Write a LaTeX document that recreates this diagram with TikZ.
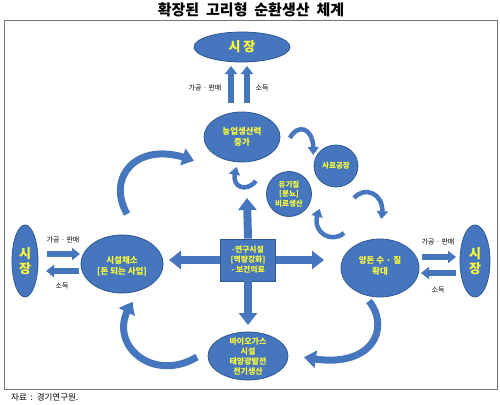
\documentclass[tikz,border=0pt]{standalone}
\usepackage{fontspec}
\setmainfont{Noto Sans CJK KR}
\usetikzlibrary{shapes.geometric,arrows.meta,bending}
\definecolor{pblue}{HTML}{4677BE}
\definecolor{pedge}{HTML}{2F5990}
\definecolor{ptext}{HTML}{FFFF33}
\definecolor{framegray}{HTML}{747474}
\begin{document}
\begin{tikzpicture}[x=1pt,y=-1pt,
  blob/.style={ellipse,fill=pblue,draw=pedge,line width=0.8pt,inner sep=0pt},
  txt/.style={text=ptext,font=\bfseries\fontsize{7.5}{9.5}\selectfont,align=center,inner sep=0pt},
  bigtxt/.style={text=ptext,font=\bfseries\fontsize{13}{15.5}\selectfont,align=center,inner sep=0pt},
  blk/.style={draw=pblue,line width=8pt,-{Triangle[length=12pt,width=18pt]}},
  blksm/.style={draw=pblue,line width=5.5pt,-{Triangle[length=8pt,width=12pt]}},
  curvbig/.style={draw=pblue,line width=7pt,-{Triangle[bend,length=12pt,width=17pt]}},
  curvsm/.style={draw=pblue,line width=4.5pt,-{Triangle[bend,length=8pt,width=11pt]}},
  lbl/.style={font=\fontsize{7}{8.5}\selectfont,text=black,inner sep=0pt}]
\useasboundingbox (0,0) rectangle (500,404);
% title and frame
\node (title) at (251,10) {\bfseries\fontsize{15}{17}\selectfont 확장된\ \ 고리형\ \ 순환생산\ \ 체계};
\draw[framegray,line width=1pt] (4.5,21) rectangle (497,389);
\node[anchor=west,font=\fontsize{8.5}{10}\selectfont,inner sep=0pt] (src) at (11,397) {자료\ \ :\ \ 경기연구원.};

% main shapes
\node[blob,minimum width=96pt,minimum height=30pt] (mt) at (242,47) {};
\node[bigtxt] at (mt.center) {시 장};
\node[blob,minimum width=76pt,minimum height=50pt] (agri) at (242,137) {};
\node[txt,font=\bfseries\fontsize{8.5}{11}\selectfont] at (agri.center) {농업생산력\\증가};
\node[blob,minimum width=44pt,minimum height=42pt] (feed) at (336,166) {};
\node[txt,font=\bfseries\fontsize{7.5}{9}\selectfont] at (feed.center) {사료공장};
\node[blob,minimum width=45pt,minimum height=45pt] (fert) at (289,194) {};
\node[txt,font=\bfseries\fontsize{7.5}{9.5}\selectfont] at (fert.center) {유기질\\{[분뇨]}\\비료생산};
\node[rectangle,fill=pblue,draw=pedge,line width=0.8pt,minimum width=55pt,minimum height=42pt,inner sep=0pt] (ctr) at (248,260) {};
\node[txt,font=\bfseries\fontsize{7.8}{10}\selectfont] at (ctr.center) {-연구시설\\{[역량강화]}\\- 보건의료};
\node[blob,minimum width=82pt,minimum height=58pt] (veg) at (122,264) {};
\node[txt,font=\bfseries\fontsize{8.5}{11.5}\selectfont] at ([yshift=-2pt]veg.center) {시설채소\\{[돈 되는 사업]}};
\node[blob,minimum width=78pt,minimum height=58pt] (pig) at (380,268) {};
\node[txt,font=\bfseries\fontsize{8.5}{11.5}\selectfont] at ([yshift=2pt]pig.center) {양돈 수 · 질\\확대};
\node[blob,minimum width=80pt,minimum height=48pt] (bio) at (248,356) {};
\node[txt,font=\bfseries\fontsize{8}{10}\selectfont] at (bio.center) {바이오가스\\시설\\태양광발전\\전기생산};
\node[blob,minimum width=26pt,minimum height=72pt] (lm) at (25,261) {};
\node[bigtxt] at (lm.center) {시\\장};
\node[blob,minimum width=30pt,minimum height=72pt] (rm) at (475,261) {};
\node[bigtxt] at (rm.center) {시\\장};

% labels
\node[lbl] (l1) at (205,88) {가공 · 판매};
\node[lbl] (l2) at (262,88) {소득};
\node[lbl] (l3) at (63,240) {가공 · 판매};
\node[lbl] (l4) at (62,286) {소득};
\node[lbl] (l5) at (438,242) {가공 · 판매};
\node[lbl] (l6) at (438,290) {소득};

% coordinates for free ends
\coordinate (u1s) at (231,103); \coordinate (u1e) at (231,66);
\coordinate (u2s) at (247,103); \coordinate (u2e) at (247,66);
\coordinate (a1s) at (47,254);  \coordinate (a1e) at (80,254);
\coordinate (a2s) at (79,271);  \coordinate (a2e) at (46,271);
\coordinate (a3s) at (422,257); \coordinate (a3e) at (456,257);
\coordinate (a4s) at (456,273); \coordinate (a4e) at (421,273);
\coordinate (cup) at (247,198);
\coordinate (cdn) at (248,325);
\coordinate (clf) at (169,260);
\coordinate (crt) at (324,260);

% straight arrows
\draw[blksm] (u1s) -- (u1e);
\draw[blksm] (u2s) -- (u2e);
\draw[blksm] (a1s) -- (a1e);
\draw[blksm] (a2s) -- (a2e);
\draw[blksm] (a3s) -- (a3e);
\draw[blksm] (a4s) -- (a4e);
\draw[blk] (ctr.north) -- (cup);
\draw[blk] (ctr.south) -- (cdn);
\draw[blk] (ctr.west) -- (clf);
\draw[blk] (ctr.east) -- (crt);

% curved arrows
\coordinate (c1s) at (127,214); \coordinate (c1e) at (194,161);
\draw[curvbig] (c1s) .. controls (105,175) and (140,138) .. (c1e);
\coordinate (c2s) at (197,357); \coordinate (c2e) at (133,302);
\draw[curvbig] (c2s) .. controls (150,385) and (103,340) .. (c2e);
\coordinate (c3s) at (369,301); \coordinate (c3e) at (304,357);
\draw[curvbig] (c3s) .. controls (392,330) and (370,372) .. (c3e);
\coordinate (s1s) at (290,138); \coordinate (s1e) at (313,155);
\draw[curvsm] (s1s) .. controls (298,122) and (316,128) .. (s1e);
\coordinate (s2s) at (354,198); \coordinate (s2e) at (381,219);
\draw[curvsm] (s2s) .. controls (366,184) and (388,196) .. (s2e);
\coordinate (s3s) at (256,181); \coordinate (s3e) at (237,167);
\draw[curvsm] (s3s) .. controls (245,194) and (228,186) .. (s3e);
\coordinate (s4s) at (344,233); \coordinate (s4e) at (320,209);
\draw[curvsm] (s4s) .. controls (330,245) and (308,230) .. (s4e);
\end{tikzpicture}
\end{document}
